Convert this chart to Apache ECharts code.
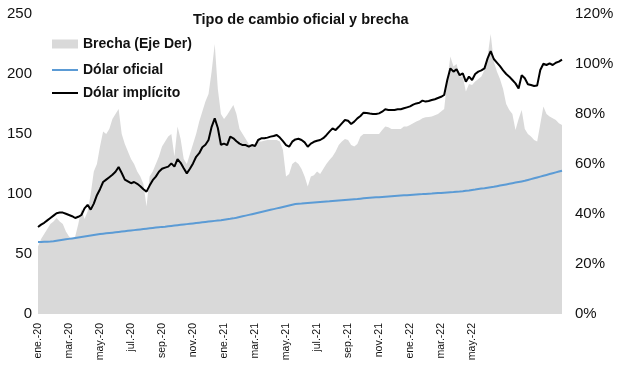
<!DOCTYPE html>
<html><head><meta charset="utf-8">
<script src="https://cdn.jsdelivr.net/npm/echarts@6/dist/echarts.min.js"></script>
<style>html,body{margin:0;padding:0;background:#fff}#c{width:617px;height:383px}</style>
</head><body><div id="c"></div>
<script>
var tickLabels = ['ene.-20','mar.-20','may.-20','jul.-20','sep.-20','nov.-20','ene.-21','mar.-21','may.-21','jul.-21','sep.-21','nov.-21','ene.-22','mar.-22','may.-22'];
var labelEvery = 10;
var oficial = [60.0,60.1,60.2,60.3,60.4,60.6,
61.0,61.4,61.8,62.2,62.6,63.0,63.4,63.8,64.2,64.6,65.0,65.4,65.8,66.2,66.6,
66.9,67.2,67.5,67.8,68.1,68.4,68.7,69.0,69.3,69.6,69.9,70.2,70.5,70.8,71.1,71.4,71.7,72.0,72.3,72.6,72.8,
73.1,73.4,73.7,74.0,74.3,74.6,74.9,75.2,75.5,75.8,76.1,76.4,76.7,77.0,77.3,77.6,77.9,78.2,78.6,79.0,79.3,79.7,
80.2,80.8,81.4,82.0,82.6,83.2,83.8,84.4,85.0,85.6,86.2,86.8,87.4,88.0,88.6,89.2,89.8,90.4,91.0,91.6,
91.8,92.0,92.3,92.5,92.7,92.9,93.1,93.3,93.5,93.7,93.9,94.2,94.4,94.6,94.8,95.0,95.2,95.4,95.6,95.8,96.1,96.4,
96.6,96.8,97.0,97.2,97.3,97.5,97.7,97.9,98.1,98.3,98.5,98.7,98.9,99.0,99.2,99.4,99.6,99.8,99.9,100.1,
100.3,100.4,100.6,100.8,100.9,101.1,101.3,101.5,101.6,101.8,102.0,
102.3,102.7,103.0,103.4,103.7,104.1,104.5,104.8,105.2,105.6,106.0,
106.5,107.0,107.5,108.0,108.5,109.0,109.5,110.0,110.5,111.0,
111.7,112.4,113.1,113.8,114.5,115.2,115.9,116.6,117.3,118.0,118.7,119.4];
var implicito = [72.5,74.5,76,78,80,82,84,84.5,84.5,83.5,
82.5,81.5,80,81,82.5,88,91,87,92,99,
104,110,112,114,116,118.5,122.5,117.5,112,110.5,
109,110,108.5,106.5,104,102,107,111.5,114.5,118.5,
121,122,122.8,125.5,122.8,129,126,121.5,117.2,121,
125.5,131,134,139,141,145,156,163,155,141,
142,140.8,147.8,146.4,144,142,140.8,140.8,139.4,140.8,
140,145,146.4,146.4,147,147.8,148.3,149.2,147,144,
140.8,139.4,143.6,145.5,146,145,143,139.4,142,143.5,
144.4,145,146.5,149,152,154.7,153.3,156,158.9,161.7,
161,158.3,160.3,163,165,167.8,167.5,167,166.7,166.7,
167.2,168.6,170.6,170,170,170,170.6,170.6,171.4,172.2,
173,174.5,175.5,176,177.8,177,177.5,178.3,179,180,
181,182.5,195,204.7,202,204,199,200.6,193.6,197.8,
195,200,202,203,204.7,213,219,212.5,209.5,206.5,
203,200,197.8,195,192.2,188,199,196.4,191.5,190.8,
190,190.5,203.3,208.5,207.5,208.9,207.5,209.4,210.3,212];
var brecha = [27,30,32,34,36,37,38.4,37,36,33,
31,30,31,36,42,38,41,48,57,60,
67,73,72,74,78,80,82,72,68,65,
62,60,57,55,52,43,55,57,60,63,
67,69,71,72,63,75,70,62,60,64,
68,72,77,81,85,88,97,108,90,80,
78,79.6,81.6,83.6,80,74,72,70,68,67.6,
68,69,69,69.3,69.6,69.6,69.6,69.6,69,65.6,
55,56,60,61,60,58,55,51,55,55.5,
57,56,58,60,61.6,63,65,67.6,69,70,
69.6,67.6,67,68,71,72,72,72,72,72,
72,73.6,75,74.7,74,74,74,74,75,75,
75.6,76.3,77,77.5,78.3,78.7,78.8,79,79.5,80,
81,82,93.6,103,99,100,95,95,89,92,
91.6,93,94,95,97.6,103,112,101,97,94,
90,84,81.6,80,73.6,78,81.6,74,72,71,
69.6,69,76,83,80,79,78.3,77.6,76.3,75.6];

var categories = oficial.map(function(_, i){ return 'p' + i; });
var brechaFrac = brecha.map(function(v){ return v / 100; });

var chart = echarts.init(document.getElementById('c'));
var font = 'Liberation Sans, Arial, Helvetica, sans-serif';
var legendText = {fontFamily: font, fontSize: 14, fontWeight: 'bold', color: '#111'};
chart.setOption({
  animation: false,
  backgroundColor: '#ffffff',
  title: {
    text: 'Tipo de cambio oficial y brecha', left: 188, top: 7,
    textStyle: {fontFamily: font, fontSize: 14.5, fontWeight: 'bold', color: '#111'}
  },
  legend: [
    {data: [{name: 'Brecha (Eje Der)', icon: 'rect'}], orient: 'vertical', left: 47, top: 32,
     itemWidth: 26, itemHeight: 9, textStyle: legendText},
    {data: [{name: 'Dólar oficial', icon: 'rect'}], orient: 'vertical', left: 47, top: 58,
     itemWidth: 26, itemHeight: 2, textStyle: legendText},
    {data: [{name: 'Dólar implícito', icon: 'rect'}], orient: 'vertical', left: 47, top: 81,
     itemWidth: 26, itemHeight: 2, textStyle: legendText}
  ],
  grid: {left: 38, right: 55, top: 14, bottom: 69, containLabel: false},
  xAxis: {
    type: 'category', data: categories, boundaryGap: false,
    axisLine: {show: false}, axisTick: {show: false},
    axisLabel: {
      interval: labelEvery - 1, rotate: 90, margin: 9,
      fontFamily: font, fontSize: 10.5, color: '#111',
      formatter: function(v, idx){ return idx % labelEvery === 0 ? (tickLabels[idx / labelEvery] || '') : ''; }
    }
  },
  yAxis: [
    {type: 'value', min: 0, max: 250, interval: 50, splitLine: {show: false},
     axisLine: {show: false}, axisTick: {show: false},
     axisLabel: {fontFamily: font, fontSize: 15, color: '#111', margin: 6}},
    {type: 'value', min: 0, max: 1.2, interval: 0.2, splitLine: {show: false},
     axisLine: {show: false}, axisTick: {show: false},
     axisLabel: {fontFamily: font, fontSize: 15, color: '#111', margin: 13,
       formatter: function(v){ return Math.round(v * 100) + '%'; }}}
  ],
  series: [
    {name: 'Brecha (Eje Der)', type: 'line', yAxisIndex: 1, data: brechaFrac,
     showSymbol: false, symbol: 'none', lineStyle: {width: 0, color: '#d9d9d9'},
     itemStyle: {color: '#d9d9d9'}, areaStyle: {color: '#d9d9d9', opacity: 1}, z: 1},
    {name: 'Dólar oficial', type: 'line', yAxisIndex: 0, data: oficial,
     showSymbol: false, symbol: 'none', lineStyle: {width: 2, color: '#5b9bd5'},
     itemStyle: {color: '#5b9bd5'}, z: 3},
    {name: 'Dólar implícito', type: 'line', yAxisIndex: 0, data: implicito,
     showSymbol: false, symbol: 'none', lineStyle: {width: 2, color: '#000000'},
     itemStyle: {color: '#000000'}, z: 4}
  ]
});
</script></body></html>
